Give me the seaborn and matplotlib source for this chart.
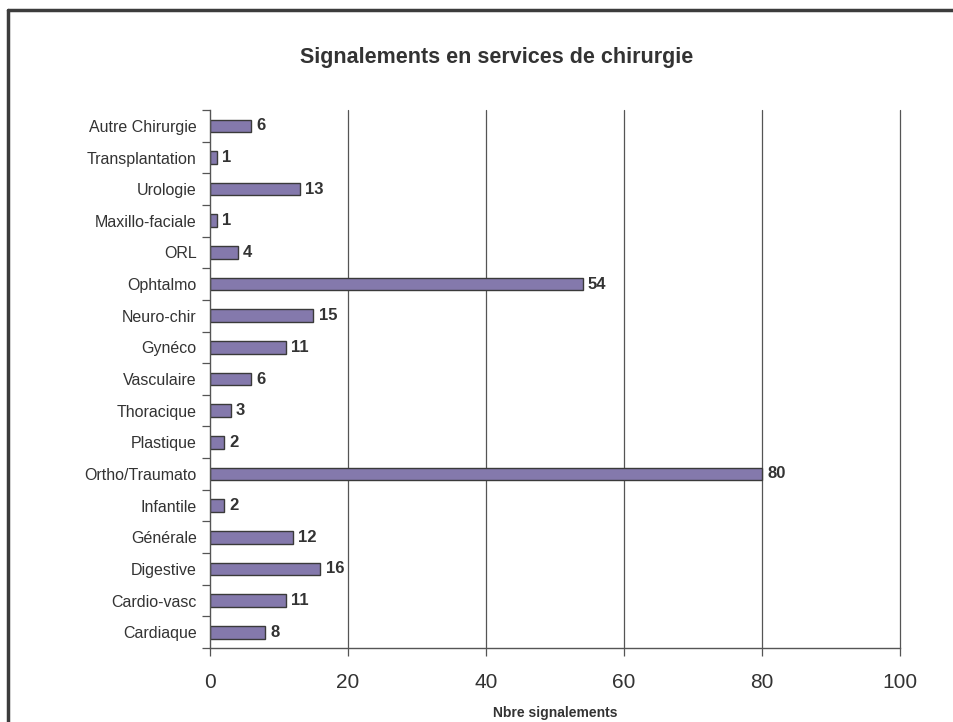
import numpy as np
import pandas as pd
import matplotlib
matplotlib.use("Agg")
import matplotlib.pyplot as plt
import seaborn as sns
from matplotlib.lines import Line2D

services = ["Autre Chirurgie", "Transplantation", "Urologie", "Maxillo-faciale", "ORL",
            "Ophtalmo", "Neuro-chir", "Gynéco", "Vasculaire", "Thoracique", "Plastique",
            "Ortho/Traumato", "Infantile", "Générale", "Digestive", "Cardio-vasc", "Cardiaque"]
signalements = [6, 1, 13, 1, 4, 54, 15, 11, 6, 3, 2, 80, 2, 12, 16, 11, 8]
x_ticks = [0, 20, 40, 60, 80, 100]

df = pd.DataFrame({"service": services, "n": signalements})

sns.set_style("white")
plt.rcParams['font.family'] = ['Liberation Sans', 'DejaVu Sans']

fig = plt.figure(figsize=(9.54, 7.22), dpi=100)
ax = fig.add_axes([0.2201, 0.1025, 0.7233, 0.7451])

sns.barplot(data=df, x="n", y="service", order=services, orient="h",
            color="#8479AC", edgecolor="#3a3a3a", linewidth=1.0, width=0.4,
            saturation=1, ax=ax)

# gridlines and axes
ax.set_xlim(0, 100)
ax.set_ylim(len(services) - 0.5, -0.5)
ax.set_xticks(x_ticks)
ax.set_xticklabels([str(t) for t in x_ticks], fontsize=15, color="#333333")
ax.xaxis.grid(False)
ax.yaxis.grid(False)
for t in x_ticks[1:]:
    ax.axvline(t, color="#555555", linewidth=0.9, zorder=0, clip_on=False)
for s in ["top", "right"]:
    ax.spines[s].set_visible(False)
for s in ["left", "bottom"]:
    ax.spines[s].set_color("#555555")
    ax.spines[s].set_linewidth(1.0)
ax.tick_params(axis="x", which="major", bottom=True, direction="out", length=6, width=0.9,
               color="#555555", pad=12)
ax.tick_params(axis="y", which="major", left=False, length=0, pad=9.5, labelsize=11.5,
               labelcolor="#333333")
ax.set_yticks(np.arange(len(services) + 1) - 0.5, minor=True)
ax.tick_params(axis="y", which="minor", left=True, direction="out", length=6, width=0.9,
               color="#555555")

for i, v in enumerate(signalements):
    ax.text(v + 0.75, i, str(v), va="center", ha="left", fontsize=12,
            fontweight="bold", color="#333333")

ax.set_ylabel("")
ax.set_xlabel("Nbre signalements", fontsize=10, fontweight="bold", color="#333333")
ax.xaxis.set_label_coords(0.5, -0.107)
fig.text(497 / 954, 1 - 57 / 722, "Signalements en services de chirurgie",
         ha="center", va="center", fontsize=15.5, fontweight="bold", color="#333333")

# outer frame (top and left edges)
fig.add_artist(Line2D([8 / 954, 1.0], [1 - 10 / 722, 1 - 10 / 722], transform=fig.transFigure,
                      color="#3c3c3c", linewidth=2.5))
fig.add_artist(Line2D([8 / 954, 8 / 954], [0, 1 - 10 / 722], transform=fig.transFigure,
                      color="#3c3c3c", linewidth=2.5))

fig.savefig("out.png", dpi=100)
